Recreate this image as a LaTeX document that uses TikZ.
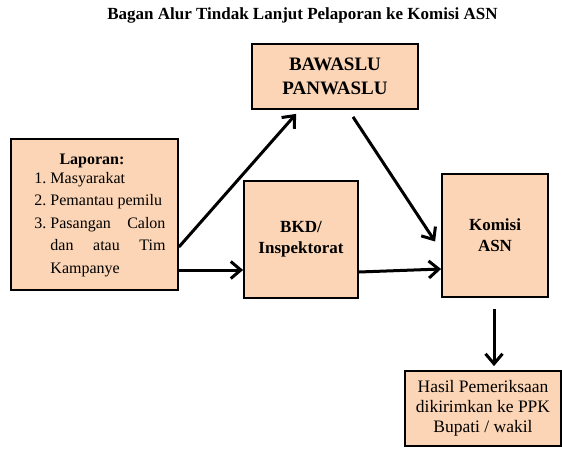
\documentclass[tikz,border=0pt]{standalone}
\usepackage{fontspec}
\setmainfont{Liberation Serif}
\usetikzlibrary{arrows.meta,calc}
\definecolor{peach}{HTML}{FBD5B5}
\tikzset{
  box/.style={draw=black, line width=1.8pt, fill=peach, inner sep=0pt, align=center},
  conn/.style={line width=3pt, -{Straight Barb[length=10pt,width=17pt,line width=3pt]}},
  lbl/.style={font=\bfseries\fontsize{17}{21}\selectfont}
}
\begin{document}
\begin{tikzpicture}[x=1pt,y=1pt]
\useasboundingbox (0,0) rectangle (562,-448);
\node[font=\bfseries\fontsize{17}{20}\selectfont] (title) at (302.5,-15) {Bagan Alur Tindak Lanjut Pelaporan ke Komisi ASN};
\node[box, font=\bfseries\fontsize{19}{24}\selectfont, minimum width=166pt, minimum height=65pt] (baw) at (335,-76.5) {BAWASLU\\PANWASLU};
\node[box, minimum width=167pt, minimum height=151pt, font=\fontsize{16}{22.5}\selectfont] (lap) at (94.5,-214.5) {%
\begin{tabular}{@{\hspace{11pt}}r@{\hspace{4pt}}l@{}}
\multicolumn{2}{@{\hspace{36pt}}l@{}}{\textbf{Laporan:}}\\[-4pt]
1. & Masyarakat\\
2. & Pemantau pemilu\\
3. & \makebox[115pt][s]{Pasangan\hfill Calon}\\
 & \makebox[115pt][s]{dan\hfill atau\hfill Tim}\\
 & Kampanye
\end{tabular}};
\node[box, lbl, minimum width=114pt, minimum height=117pt] (bkd) at (301,-239.5) {BKD/\\Inspektorat};
\node[box, lbl, minimum width=106pt, minimum height=123pt] (kom) at (495,-235.5) {Komisi\\ASN};
\node[box, font=\fontsize{17.5}{20}\selectfont, minimum width=156pt, minimum height=75pt] (has) at (483,-408.5) {Hasil Pemeriksaan\\dikirimkan ke PPK\\Bupati / wakil};
\draw[conn] ([yshift=-32.5pt]lap.east) -- ([xshift=45pt,yshift=-4pt]baw.south west);
\draw[conn] ([yshift=-55.5pt]lap.east) -- ([yshift=-30.5pt]bkd.west);
\draw[conn] ([xshift=18pt,yshift=-7pt]baw.south) -- ([xshift=-6pt,yshift=-6pt]kom.west);
\draw[conn] ([yshift=-32.5pt]bkd.east) -- ([yshift=-33.5pt]kom.west);
\draw[conn] ([xshift=-1pt,yshift=-11pt]kom.south) -- ([xshift=-1pt,yshift=4pt]has.north -| kom.south);
\end{tikzpicture}
\end{document}
